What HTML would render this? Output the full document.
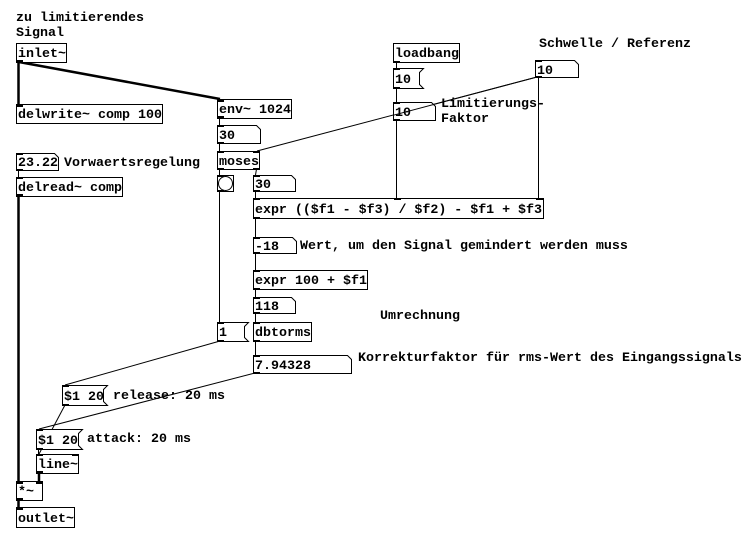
<!DOCTYPE html>
<html>
<head>
<meta charset="utf-8">
<style>
  html, body { margin: 0; padding: 0; background: #fff; }
  svg { display: block; }
  text { font-family: "Liberation Mono", "DejaVu Sans Mono", monospace; font-weight: bold; font-size: 13.33px; fill: #000; white-space: pre; }
</style>
</head>
<body>
<svg width="742" height="534" viewBox="0 0 742 534" xmlns="http://www.w3.org/2000/svg">
  <rect x="0" y="0" width="742" height="534" fill="#fff"/>

  <!-- ===== connections (thin) ===== -->
  <g stroke="#000" stroke-width="1" fill="none">
    <line x1="219.5" y1="118" x2="219.5" y2="125"/>
    <line x1="219.5" y1="143" x2="219.5" y2="151"/>
    <line x1="219.5" y1="169" x2="219.5" y2="175"/>
    <line x1="256.5" y1="169" x2="255.5" y2="175"/>
    <line x1="219.5" y1="191" x2="219.5" y2="322"/>
    <line x1="255.5" y1="191" x2="255.5" y2="198"/>
    <line x1="537" y1="77" x2="257" y2="151"/>
    <line x1="538.5" y1="77" x2="538.5" y2="198"/>
    <line x1="396.5" y1="62" x2="396.5" y2="68"/>
    <line x1="396.5" y1="88" x2="396.5" y2="102"/>
    <line x1="396.5" y1="120" x2="396.5" y2="198"/>
    <line x1="255.5" y1="218" x2="255.5" y2="237"/>
    <line x1="255.5" y1="253" x2="255.5" y2="270"/>
    <line x1="255.5" y1="289" x2="255.5" y2="297"/>
    <line x1="255.5" y1="313" x2="255.5" y2="322"/>
    <line x1="255.5" y1="341" x2="255.5" y2="355"/>
    <line x1="220" y1="341" x2="65" y2="385"/>
    <line x1="255" y1="373" x2="39" y2="429"/>
    <line x1="65" y1="405" x2="39" y2="454"/>
    <line x1="38.5" y1="449" x2="38.5" y2="454"/>
    <line x1="18.5" y1="170" x2="18.5" y2="177"/>
  </g>
  <!-- ===== signal connections (thick) ===== -->
  <g stroke="#000" stroke-width="2.5" fill="none">
    <line x1="18.5" y1="62" x2="18.5" y2="104"/>
    <line x1="19" y1="62" x2="220" y2="99"/>
    <line x1="18.5" y1="196" x2="18.5" y2="481"/>
    <line x1="39" y1="473" x2="39" y2="481"/>
    <line x1="18.5" y1="500" x2="18.5" y2="507"/>
  </g>

  <!-- ===== boxes ===== -->
  <g stroke="#000" stroke-width="1" fill="#fff">
    <!-- object boxes -->
    <rect x="16.5" y="43.5" width="50" height="19"/>
    <rect x="16.5" y="104.5" width="146" height="19"/>
    <rect x="217.5" y="99.5" width="74" height="19"/>
    <rect x="217.5" y="151.5" width="42" height="18"/>
    <rect x="16.5" y="177.5" width="106" height="19"/>
    <rect x="393.5" y="43.5" width="66" height="19"/>
    <rect x="253.5" y="198.5" width="290" height="20"/>
    <rect x="253.5" y="270.5" width="114" height="19"/>
    <rect x="253.5" y="322.5" width="58" height="19"/>
    <rect x="36.5" y="454.5" width="42" height="19"/>
    <rect x="16.5" y="481.5" width="26" height="19"/>
    <rect x="16.5" y="507.5" width="58" height="20"/>
    <!-- bang -->
    <rect x="217.5" y="175.5" width="16" height="16"/>
    <circle cx="225.5" cy="183.5" r="7"/>
    <!-- number boxes: M x1 y1 H x2-4 L x2 y1+4 V y2 H x1 Z -->
    <path d="M217.5 125.5 H256.5 L260.5 129.5 V143.5 H217.5 Z"/>
    <path d="M253.5 175.5 H291.5 L295.5 179.5 V191.5 H253.5 Z"/>
    <path d="M16.5 153.5 H54.5 L58.5 157.5 V170.5 H16.5 Z"/>
    <path d="M393.5 102.5 H431.5 L435.5 106.5 V120.5 H393.5 Z"/>
    <path d="M535.5 60.5 H574.5 L578.5 64.5 V77.5 H535.5 Z"/>
    <path d="M253.5 237.5 H292.5 L296.5 241.5 V253.5 H253.5 Z"/>
    <path d="M253.5 297.5 H291.5 L295.5 301.5 V313.5 H253.5 Z"/>
    <path d="M253.5 355.5 H347.5 L351.5 359.5 V373.5 H253.5 Z"/>
    <!-- message boxes -->
    <path d="M393.5 68.5 H423.5 L419.5 72.5 V84.5 L423.5 88.5 H393.5 Z"/>
    <path d="M217.5 322.5 H248.5 L244.5 326.5 V337.5 L248.5 341.5 H217.5 Z"/>
    <path d="M62.5 385.5 H107.5 L103.5 389.5 V401.5 L107.5 405.5 H62.5 Z"/>
    <path d="M36.5 429.5 H82.5 L78.5 433.5 V445.5 L82.5 449.5 H36.5 Z"/>
  </g>

  <!-- ===== inlets / outlets ===== -->
  <g fill="#000">
    <!-- inlet~ -->
    <rect x="16" y="60" width="7" height="3"/>
    <!-- delwrite -->
    <rect x="16" y="104" width="7" height="3"/>
    <!-- env -->
    <rect x="217" y="99" width="7" height="3"/>
    <rect x="217" y="116" width="7" height="3"/>
    <!-- 30a -->
    <rect x="217" y="125" width="7" height="2"/>
    <rect x="217" y="142" width="7" height="2"/>
    <!-- moses -->
    <rect x="217" y="151" width="7" height="2"/>
    <rect x="253" y="151" width="7" height="2"/>
    <rect x="217" y="168" width="7" height="2"/>
    <rect x="253" y="168" width="7" height="2"/>
    <!-- bang -->
    <rect x="217" y="175" width="7" height="2"/>
    <rect x="217" y="190" width="7" height="2"/>
    <!-- 30b -->
    <rect x="253" y="175" width="7" height="2"/>
    <rect x="253" y="190" width="7" height="2"/>
    <!-- 23.22 -->
    <rect x="16" y="153" width="7" height="2"/>
    <rect x="16" y="169" width="7" height="2"/>
    <!-- delread -->
    <rect x="16" y="177" width="7" height="2"/>
    <rect x="16" y="194" width="7" height="3"/>
    <!-- loadbang -->
    <rect x="393" y="61" width="7" height="2"/>
    <!-- msg10 -->
    <rect x="393" y="68" width="7" height="2"/>
    <rect x="393" y="87" width="7" height="2"/>
    <!-- num10 -->
    <rect x="393" y="102" width="7" height="2"/>
    <rect x="393" y="119" width="7" height="2"/>
    <!-- schwelle -->
    <rect x="535" y="60" width="7" height="2"/>
    <rect x="535" y="76" width="7" height="2"/>
    <!-- expr big -->
    <rect x="253" y="198" width="7" height="2"/>
    <rect x="394" y="198" width="7" height="2"/>
    <rect x="536" y="198" width="7" height="2"/>
    <rect x="253" y="217" width="7" height="2"/>
    <!-- -18 -->
    <rect x="253" y="237" width="7" height="2"/>
    <rect x="253" y="252" width="7" height="2"/>
    <!-- expr100 -->
    <rect x="253" y="270" width="7" height="2"/>
    <rect x="253" y="288" width="7" height="2"/>
    <!-- 118 -->
    <rect x="253" y="297" width="7" height="2"/>
    <rect x="253" y="312" width="7" height="2"/>
    <!-- dbtorms -->
    <rect x="253" y="322" width="7" height="2"/>
    <rect x="253" y="340" width="7" height="2"/>
    <!-- 7.94 -->
    <rect x="253" y="355" width="7" height="2"/>
    <rect x="253" y="372" width="7" height="2"/>
    <!-- msg1 -->
    <rect x="217" y="322" width="7" height="2"/>
    <rect x="217" y="340" width="7" height="2"/>
    <!-- release -->
    <rect x="62" y="385" width="7" height="2"/>
    <rect x="62" y="404" width="7" height="2"/>
    <!-- attack -->
    <rect x="36" y="429" width="7" height="2"/>
    <rect x="36" y="448" width="7" height="2"/>
    <!-- line~ -->
    <rect x="36" y="454" width="7" height="2"/>
    <rect x="72" y="454" width="7" height="2"/>
    <rect x="36" y="471" width="7" height="3"/>
    <!-- *~ -->
    <rect x="16" y="481" width="7" height="3"/>
    <rect x="36" y="481" width="7" height="3"/>
    <rect x="16" y="498" width="7" height="3"/>
    <!-- outlet~ -->
    <rect x="16" y="507" width="7" height="3"/>
  </g>

  <!-- ===== box text ===== -->
  <text x="18" y="57">inlet~</text>
  <text x="18" y="118">delwrite~ comp 100</text>
  <text x="219" y="113">env~ 1024</text>
  <text x="219" y="139">30</text>
  <text x="219" y="165">moses</text>
  <text x="255" y="188">30</text>
  <text x="18" y="166">23.22</text>
  <text x="18" y="191">delread~ comp</text>
  <text x="395" y="57">loadbang</text>
  <text x="395" y="83">10</text>
  <text x="395" y="116">10</text>
  <text x="537" y="74">10</text>
  <text x="255" y="213" textLength="287" lengthAdjust="spacing">expr (($f1 - $f3) / $f2) - $f1 + $f3</text>
  <text x="255" y="250">-18</text>
  <text x="255" y="284">expr 100 + $f1</text>
  <text x="255" y="310">118</text>
  <text x="219" y="336">1</text>
  <text x="255" y="336">dbtorms</text>
  <text x="255" y="369">7.94328</text>
  <text x="64" y="400">$1 20</text>
  <text x="38" y="444">$1 20</text>
  <text x="38" y="468">line~</text>
  <text x="18" y="495">*~</text>
  <text x="18" y="522">outlet~</text>

  <!-- ===== comments ===== -->
  <text x="16" y="21">zu limitierendes</text>
  <text x="16" y="36">Signal</text>
  <text x="64" y="166">Vorwaertsregelung</text>
  <text x="539" y="47">Schwelle / Referenz</text>
  <text x="441" y="107">Limitierungs-</text>
  <text x="441" y="122">Faktor</text>
  <text x="300" y="249">Wert, um den Signal gemindert werden muss</text>
  <text x="380" y="319">Umrechnung</text>
  <text x="358" y="361">Korrekturfaktor für rms-Wert des Eingangssignals</text>
  <text x="113" y="399">release: 20 ms</text>
  <text x="87" y="442">attack: 20 ms</text>

  <!-- lines passing over text (as in reference) -->
  <g stroke="#000" stroke-width="1">
    <line x1="537" y1="77" x2="393" y2="115.3"/>
    <line x1="538.5" y1="95" x2="538.5" y2="125"/>
  </g>
</svg>
</body>
</html>
